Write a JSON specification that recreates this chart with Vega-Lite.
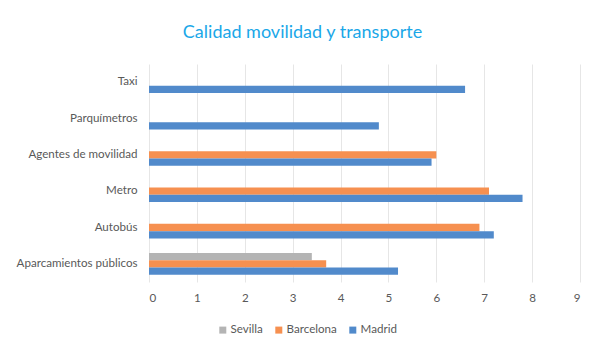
{
  "$schema": "https://vega.github.io/schema/vega-lite/v6.json",
  "autosize": "none",
  "width": 431,
  "height": 218,
  "padding": {"left": 149, "top": 64, "right": 26, "bottom": 76},
  "background": "white",
  "title": {
    "text": "Calidad movilidad y transporte",
    "color": "#1AA7E8",
    "font": "Lato",
    "fontSize": 18,
    "fontWeight": "normal",
    "anchor": "middle",
    "dx": -62,
    "offset": 22
  },
  "config": {
    "view": {"stroke": null},
    "axis": {"labelFont": "Lato", "labelFontSize": 11.6, "labelColor": "#595959"},
    "legend": {"labelFont": "Lato", "labelFontSize": 11.6, "labelColor": "#595959"}
  },
  "data": {
    "values": [
      {"categoria": "Taxi", "ciudad": "Madrid", "valor": 6.6},
      {"categoria": "Parquímetros", "ciudad": "Madrid", "valor": 4.8},
      {"categoria": "Agentes de movilidad", "ciudad": "Barcelona", "valor": 6.0},
      {"categoria": "Agentes de movilidad", "ciudad": "Madrid", "valor": 5.9},
      {"categoria": "Metro", "ciudad": "Barcelona", "valor": 7.1},
      {"categoria": "Metro", "ciudad": "Madrid", "valor": 7.8},
      {"categoria": "Autobús", "ciudad": "Barcelona", "valor": 6.9},
      {"categoria": "Autobús", "ciudad": "Madrid", "valor": 7.2},
      {"categoria": "Aparcamientos públicos", "ciudad": "Sevilla", "valor": 3.4},
      {"categoria": "Aparcamientos públicos", "ciudad": "Barcelona", "valor": 3.7},
      {"categoria": "Aparcamientos públicos", "ciudad": "Madrid", "valor": 5.2}
    ]
  },
  "mark": {"type": "bar"},
  "encoding": {
    "y": {
      "field": "categoria",
      "type": "nominal",
      "sort": ["Taxi", "Parquímetros", "Agentes de movilidad", "Metro", "Autobús", "Aparcamientos públicos"],
      "scale": {"paddingInner": 0.4, "paddingOuter": 0.2},
      "axis": {"title": null, "domain": false, "ticks": false, "labelPadding": 12}
    },
    "yOffset": {
      "field": "ciudad",
      "type": "nominal",
      "sort": ["Sevilla", "Barcelona", "Madrid"],
      "scale": {"paddingInner": 0, "paddingOuter": 0}
    },
    "x": {
      "field": "valor",
      "type": "quantitative",
      "scale": {"domain": [0, 9], "nice": false},
      "axis": {"title": null, "values": [0,1,2,3,4,5,6,7,8,9], "domain": false, "ticks": false, "grid": true, "gridColor": "#E6E6E6", "gridWidth": 1, "labelPadding": 10}
    },
    "color": {
      "field": "ciudad",
      "type": "nominal",
      "scale": {"domain": ["Sevilla", "Barcelona", "Madrid"], "range": ["#B4B4B4", "#F69050", "#518ACB"]},
      "legend": {
        "title": null,
        "orient": "none",
        "direction": "horizontal",
        "legendX": 68,
        "legendY": 260,
        "symbolType": "square",
        "symbolSize": 49,
        "symbolStrokeWidth": 0,
        "labelOffset": 2,
        "columnPadding": 10
      }
    }
  }
}
